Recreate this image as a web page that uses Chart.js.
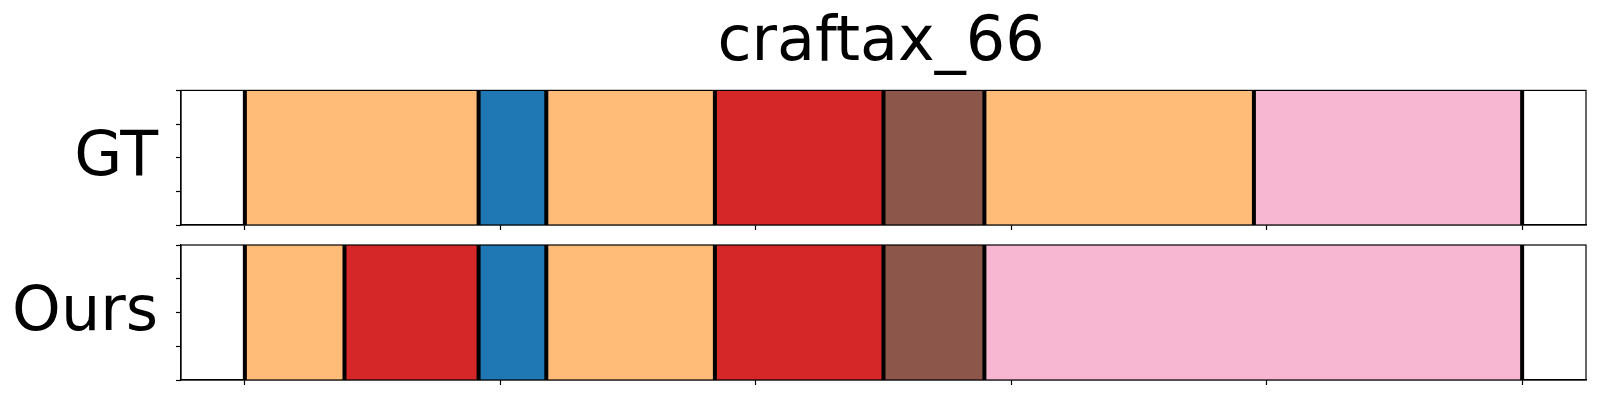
<!DOCTYPE html>
<html>
<head>
<meta charset="utf-8">
<script src="https://cdn.jsdelivr.net/npm/chart.js@4.4.1/dist/chart.umd.min.js"></script>
<style>
  html, body { margin: 0; padding: 0; background: #fff; }
  #wrap { position: relative; width: 1600px; height: 400px; }
  #wrap canvas { position: absolute; left: 0; top: 0; }
</style>
</head>
<body>
<div id="wrap">
  <canvas id="gt" width="1600" height="400"></canvas>
  <canvas id="ours" width="1600" height="400"></canvas>
</div>
<script>
const title = "craftax_66";
const rowLabels = ["GT", "Ours"];
// segment boundaries (frame %) and the class id of each segment
const gtBounds = [0, 18.3, 23.6, 36.8, 50.0, 57.9, 79.0, 100];
const gtClasses = [3, 0, 3, 6, 10, 3, 13];
const oursBounds = [0, 7.8, 18.3, 23.6, 36.8, 50.0, 57.9, 100];
const oursClasses = [3, 6, 0, 3, 6, 10, 13];
const xTicks = [0, 20, 40, 60, 80, 100];
const yTicks = [0, 0.25, 0.5, 0.75, 1];

// matplotlib tab20
const tab20 = ["#1f77b4", "#aec7e8", "#ff7f0e", "#ffbb78", "#2ca02c", "#98df8a",
  "#d62728", "#ff9896", "#9467bd", "#c5b0d5", "#8c564b", "#c49c94",
  "#e377c2", "#f7b6d2", "#7f7f7f", "#c7c7c7", "#bcbd22", "#dbdb8d",
  "#17becf", "#9edae5"];

const FONT = "DejaVu Sans";
const LABEL_SIZE = 62;

function axisStyle(ticks) {
  return {
    offset: false, // bar charts give the y axes offset:true by default
    afterBuildTicks: s => { s.ticks = ticks.map(v => ({value: v})); },
    ticks: {display: false},
    grid: {offset: false, drawOnChartArea: false, drawTicks: true, tickLength: 5, tickWidth: 1.2, tickColor: "#000"},
    border: {display: true, color: "#000", width: 1.2},
  };
}

function makeChart(id, label, bounds, classes, padding, showTitle) {
  const datasets = classes.map((c, i) => ({
    data: [[bounds[i], bounds[i + 1]]],
    backgroundColor: tab20[c],
    borderWidth: 0,
    grouped: false,
    barPercentage: 1,
    categoryPercentage: 1,
    xAxisID: "x",
    yAxisID: "y",
  }));

  const segLines = {
    id: "segLines",
    afterDatasetsDraw(chart) {
      const {ctx, chartArea, scales} = chart;
      ctx.save();
      ctx.strokeStyle = "#000";
      ctx.lineWidth = 4;
      bounds.forEach(b => {
        const px = scales.x.getPixelForValue(b);
        ctx.beginPath();
        ctx.moveTo(px, chartArea.top);
        ctx.lineTo(px, chartArea.bottom);
        ctx.stroke();
      });
      ctx.restore();
    },
    afterDraw(chart) {
      const {ctx, chartArea} = chart;
      ctx.save();
      ctx.strokeStyle = "#000";
      ctx.lineWidth = 1.2;
      ctx.strokeRect(chartArea.left, chartArea.top,
        chartArea.right - chartArea.left, chartArea.bottom - chartArea.top);
      // row label, horizontal like matplotlib's ylabel with rotation=0
      ctx.fillStyle = "#000";
      ctx.font = `${LABEL_SIZE}px "${FONT}"`;
      ctx.textAlign = "right";
      ctx.textBaseline = "alphabetic";
      const mid = (chartArea.top + chartArea.bottom) / 2;
      ctx.fillText(label, chartArea.left - 23, mid + 17);
      ctx.restore();
    },
  };

  return new Chart(document.getElementById(id), {
    type: "bar",
    data: {labels: [label], datasets},
    options: {
      indexAxis: "y",
      responsive: false,
      animation: false,
      events: [],
      layout: {padding},
      scales: {
        x: Object.assign({type: "linear", position: "bottom", min: -5, max: 105}, axisStyle(xTicks)),
        y: {type: "category", display: false},
        yl: Object.assign({type: "linear", position: "left", min: 0, max: 1}, axisStyle(yTicks)),
      },
      plugins: {
        legend: {display: false},
        tooltip: {enabled: false},
        title: {
          display: showTitle,
          text: title,
          color: "#000",
          font: {family: FONT, size: LABEL_SIZE, weight: "normal", lineHeight: 1.2},
          padding: {top: 7, bottom: 9},
        },
      },
    },
    plugins: [segLines],
  });
}

makeChart("gt", rowLabels[0], gtBounds, gtClasses,
  {left: 176, right: 14, top: 0, bottom: 170}, true);
makeChart("ours", rowLabels[1], oursBounds, oursClasses,
  {left: 176, right: 14, top: 245, bottom: 15}, false);
</script>
</body>
</html>
